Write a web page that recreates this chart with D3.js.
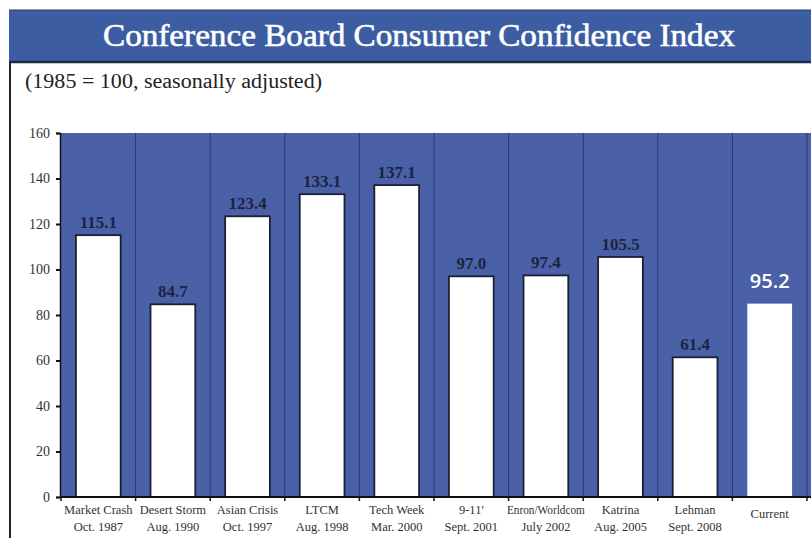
<!DOCTYPE html>
<html>
<head>
<meta charset="utf-8">
<script src="https://cdn.jsdelivr.net/npm/d3@7"></script>
<style>
  body { margin: 0; background: #fff; }
  svg { display: block; }
  text { font-family: "Liberation Serif", "DejaVu Serif", serif; }
</style>
</head>
<body>
<svg width="811" height="538"></svg>
<script>
// --- Data ---
const categories = ['Market Crash', 'Desert Storm', 'Asian Crisis', 'LTCM', 'Tech Week',
  "9-11'", 'Enron/Worldcom', 'Katrina', 'Lehman', 'Current'];
const dates = ['Oct. 1987', 'Aug. 1990', 'Oct. 1997', 'Aug. 1998', 'Mar. 2000',
  'Sept. 2001', 'July 2002', 'Aug. 2005', 'Sept. 2008', ''];
const barValues = [115.1, 84.7, 123.4, 133.1, 137.1, 97.0, 97.4, 105.5, 61.4, 85];
const barLabels = ['115.1', '84.7', '123.4', '133.1', '137.1', '97.0', '97.4', '105.5', '61.4', '95.2'];
const yTicks = [0, 20, 40, 60, 80, 100, 120, 140, 160];

const svg = d3.select('svg');
const width = +svg.attr('width');
const height = +svg.attr('height');

// --- Frame / title ---
svg.append('line')
  .attr('x1', 10).attr('x2', 10).attr('y1', 10).attr('y2', height)
  .attr('stroke', '#222').attr('stroke-width', 2);

svg.append('rect')
  .attr('x', 9).attr('y', 10).attr('width', width - 9).attr('height', 52)
  .attr('fill', '#3c5da2');
svg.append('line')
  .attr('x1', 9).attr('x2', width).attr('y1', 62).attr('y2', 62)
  .attr('stroke', '#1d2a4a').attr('stroke-width', 2.5);
svg.append('line')
  .attr('x1', 9).attr('x2', width).attr('y1', 10).attr('y2', 10)
  .attr('stroke', '#2a3a60').attr('stroke-width', 1);

svg.append('text')
  .attr('x', 103).attr('y', 46)
  .attr('fill', '#fff')
  .attr('stroke', '#fff')
  .attr('stroke-width', 0.6)
  .attr('font-size', 32)
  .attr('textLength', 632)
  .attr('lengthAdjust', 'spacingAndGlyphs')
  .text('Conference Board Consumer Confidence Index');

svg.append('text')
  .attr('x', 25).attr('y', 88)
  .attr('fill', '#222')
  .attr('font-size', 20)
  .attr('textLength', 297)
  .attr('lengthAdjust', 'spacingAndGlyphs')
  .text('(1985 = 100, seasonally adjusted)');

// --- Scales ---
const x = d3.scaleBand().domain(categories).range([61, 807]).paddingInner(0).paddingOuter(0);
const y = d3.scaleLinear().domain([0, 160]).range([497, 133]);

const chart = svg.append('g');

// plot background
chart.append('rect')
  .attr('x', 61).attr('y', y(160))
  .attr('width', width - 61).attr('height', y(0) - y(160))
  .attr('fill', '#4a61a8');

// band separators
chart.selectAll('line.sep')
  .data(d3.range(1, categories.length + 1))
  .join('line')
  .attr('class', 'sep')
  .attr('x1', i => 61 + x.bandwidth() * i)
  .attr('x2', i => 61 + x.bandwidth() * i)
  .attr('y1', y(160)).attr('y2', y(0))
  .attr('stroke', '#2b3768').attr('stroke-width', 1);

// bars
const barW = x.bandwidth() * 0.6;
const last = categories.length - 1;
chart.selectAll('rect.bar')
  .data(barValues)
  .join('rect')
  .attr('class', 'bar')
  .attr('x', (d, i) => x(categories[i]) + (x.bandwidth() - barW) / 2)
  .attr('y', d => y(d))
  .attr('width', barW)
  .attr('height', d => y(0) - y(d))
  .attr('fill', '#fff')
  .attr('stroke', (d, i) => i === last ? 'none' : '#1a1f33')
  .attr('stroke-width', 1.8);

// value labels
chart.selectAll('text.val')
  .data(barValues)
  .join('text')
  .attr('class', 'val')
  .attr('x', (d, i) => x(categories[i]) + x.bandwidth() / 2)
  .attr('y', (d, i) => i === last ? y(d) - 16 : y(d) - 7)
  .attr('text-anchor', 'middle')
  .attr('fill', (d, i) => i === last ? '#fff' : '#1d2340')
  .attr('font-size', (d, i) => i === last ? 20 : 17)
  .attr('font-weight', (d, i) => i === last ? 600 : 'bold')
  .style('font-family', (d, i) => i === last ? '"Open Sans", "DejaVu Sans", sans-serif' : null)
  .text((d, i) => barLabels[i]);

// --- Axes ---
const yAxis = d3.axisLeft(y).tickValues(yTicks).tickSize(4).tickPadding(6);
const yG = chart.append('g').attr('transform', 'translate(60,0)').call(yAxis);
yG.select('.domain').attr('stroke', '#111').attr('stroke-width', 1.5);
yG.selectAll('.tick line').attr('stroke', '#111').attr('stroke-width', 2);
yG.selectAll('.tick text')
  .attr('font-family', '"Liberation Serif", serif')
  .attr('font-size', 14)
  .attr('fill', '#333');

svg.append('line')
  .attr('x1', 60).attr('x2', width).attr('y1', y(0)).attr('y2', y(0))
  .attr('stroke', '#111').attr('stroke-width', 2);

// x ticks at band boundaries
chart.selectAll('line.xt')
  .data(d3.range(categories.length + 1))
  .join('line')
  .attr('class', 'xt')
  .attr('x1', i => 61 + x.bandwidth() * i)
  .attr('x2', i => 61 + x.bandwidth() * i)
  .attr('y1', y(0)).attr('y2', y(0) + 4)
  .attr('stroke', '#111').attr('stroke-width', 1.5);

// category labels
const catG = chart.selectAll('g.cat')
  .data(categories)
  .join('g')
  .attr('class', 'cat')
  .attr('transform', d => `translate(${x(d) + x.bandwidth() / 2},0)`);

catG.append('text')
  .attr('y', (d, i) => dates[i] ? 514 : 518)
  .attr('text-anchor', 'middle')
  .attr('font-size', 12.5)
  .attr('fill', '#333')
  .attr('textLength', d => d.length > 12 ? 78 : null)
  .attr('lengthAdjust', 'spacingAndGlyphs')
  .text(d => d);

catG.append('text')
  .attr('y', 531)
  .attr('text-anchor', 'middle')
  .attr('font-size', 12.5)
  .attr('fill', '#333')
  .text((d, i) => dates[i]);
</script>
</body>
</html>
